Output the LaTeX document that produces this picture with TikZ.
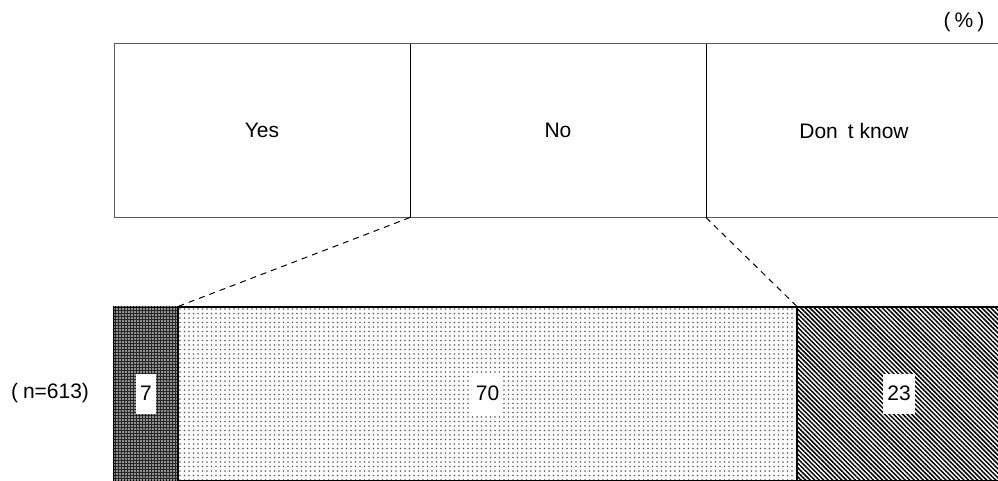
\documentclass[tikz,border=0pt]{standalone}
\usepackage{fontspec}
\setmainfont{Liberation Sans}
\usetikzlibrary{positioning,patterns.meta}

\begin{document}
\begin{tikzpicture}[x=1pt,y=-1pt, node distance=296pt, on grid,
    font=\fontsize{21}{25}\selectfont,
    catbox/.style={draw=black!65, line width=1pt, minimum width=296pt,
      minimum height=174pt, inner sep=0pt, outer sep=0pt},
    seg/.style={draw, line width=2pt, minimum height=174pt, inner sep=0pt,
      outer sep=0pt},
    val/.style={fill=white, inner xsep=4pt, minimum height=40pt}]
    \useasboundingbox (0,0) rectangle (998,480);%
    % answer boxes
    \node[catbox] (yes) at (262,130.5) {Yes};%
    \node[catbox] (no) [right=of yes] {No};%
    \node[catbox] (dk) [right=of no] {Don\hspace{10pt}t know};%
    \draw[black, line width=1pt] (no.north west) -- (no.south west)
    (no.north east) -- (no.south east);%
    % bar
    \node[seg, minimum width=64pt, fill=black!85,
    postaction={pattern={Dots[distance=3pt,radius=0.8pt]}, pattern color=white}]
    (s7) at (146,393.5) {};%
    \node[seg, minimum width=619pt,
    pattern={Dots[distance=4.5pt,radius=0.85pt]}, pattern color=black!65]
    (s70) at (487.5,393.5) {};%
    \node[seg, minimum width=204pt,
    pattern={Lines[angle=-45,distance=3.2pt,line width=1.5pt]}]
    (s23) at (899,393.5) {};%
    \node[val] (v7) at (s7) {7};%
    \node[val] (v70) at (s70) {70};%
    \node[val] (v23) at (s23) {23};%
    \node (n) at (50,393.5) {(\hspace{5pt}n=613)};%
    \node (pct) at (964,22) {(\hspace{4pt}\%\hspace{4pt})};%
    % connectors
    \draw[dashed, line width=1pt, dash pattern=on 6pt off 5pt]
    (no.south west) -- (s70.north west)
    (no.south east) -- (s70.north east);%
  \end{tikzpicture}
\end{document}
